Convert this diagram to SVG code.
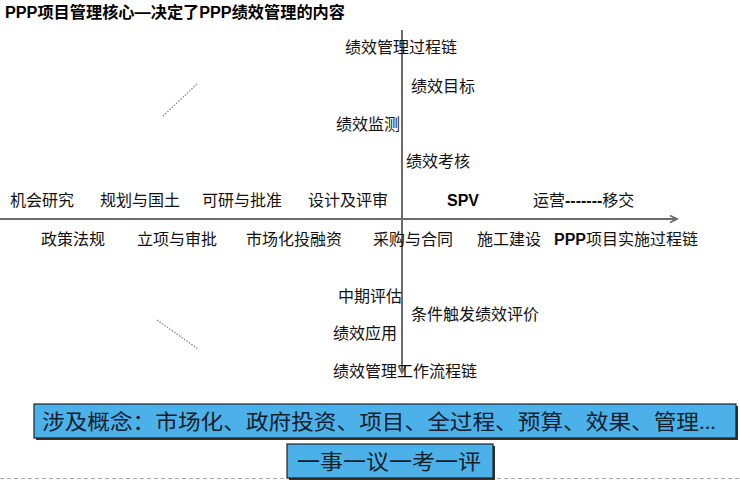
<svg xmlns="http://www.w3.org/2000/svg" width="740" height="484" viewBox="0 0 740 484">
<style>
.t{font-family:"Liberation Serif","Noto Sans CJK SC",serif;font-size:16px;fill:#111}
.b{font-family:"Liberation Sans","Noto Sans CJK SC",sans-serif;font-size:16px;font-weight:bold;fill:#000}
.box{fill:#4cb1e8;stroke:#222;stroke-width:1.2}
.sh{fill:#333}
.bt{font-family:"Liberation Serif","Noto Sans CJK SC",serif;font-size:21px;fill:#14202c}
.ax{stroke:#6b6b6b;stroke-width:2;fill:none}
.dot{stroke:#888;stroke-width:1.3;stroke-dasharray:1.5 1.5;fill:none}
</style>
<defs>
<marker id="ah" markerWidth="10" markerHeight="10" refX="8" refY="5" orient="auto" markerUnits="userSpaceOnUse">
<path d="M1,1.5 L8,5 L1,8.5" fill="none" stroke="#6b6b6b" stroke-width="1.8"/>
</marker>
</defs>
<rect width="740" height="484" fill="#fff"/>
<text id="title" class="b" x="5" y="18" font-size="16px" textLength="340" lengthAdjust="spacingAndGlyphs">PPP项目管理核心—决定了PPP绩效管理的内容</text>
<g id="connectors">
<line class="ax" x1="0" y1="219" x2="677" y2="219" marker-end="url(#ah)"/>
<line class="ax" x1="402" y1="30" x2="402" y2="373" marker-end="url(#ah)"/>
<line class="dot" x1="163" y1="116" x2="197" y2="84"/>
<line class="dot" x1="157" y1="320" x2="198" y2="349"/>
<line x1="0" y1="478.5" x2="740" y2="478.5" stroke="#aaa" stroke-width="1" stroke-dasharray="4 3"/>
</g>
<g id="n-chain"><text class="t" x="345" y="53">绩效管理过程链</text></g>
<g id="n-target"><text class="t" x="411" y="92">绩效目标</text></g>
<g id="n-monitor"><text class="t" x="336" y="130">绩效监测</text></g>
<g id="n-assess"><text class="t" x="406" y="167">绩效考核</text></g>
<g id="n-r1a"><text class="t" x="10" y="206">机会研究</text></g>
<g id="n-r1b"><text class="t" x="100" y="206">规划与国土</text></g>
<g id="n-r1c"><text class="t" x="202" y="206">可研与批准</text></g>
<g id="n-r1d"><text class="t" x="308" y="206">设计及评审</text></g>
<g id="n-spv"><text class="b" x="447" y="206" font-size="17px">SPV</text></g>
<g id="n-ops"><text class="t" x="533" y="206">运营<tspan font-family="Liberation Sans" font-weight="bold">-------</tspan>移交</text></g>
<g id="n-r2a"><text class="t" x="41" y="245">政策法规</text></g>
<g id="n-r2b"><text class="t" x="137" y="245">立项与审批</text></g>
<g id="n-r2c"><text class="t" x="246" y="245">市场化投融资</text></g>
<g id="n-r2d"><text class="t" x="373" y="245">采购与合同</text></g>
<g id="n-r2e"><text class="t" x="477" y="245">施工建设</text></g>
<g id="n-r2f"><text class="t" x="554" y="245"><tspan font-family="Liberation Sans" font-weight="bold" font-size="16px">PPP</tspan>项目实施过程链</text></g>
<g id="n-mid"><text class="t" x="338" y="302">中期评估</text></g>
<g id="n-trigger"><text class="t" x="411" y="320">条件触发绩效评价</text></g>
<g id="n-apply"><text class="t" x="333" y="339">绩效应用</text></g>
<g id="n-flow"><text class="t" x="333" y="377">绩效管理工作流程链</text></g>
<g id="n-concepts">
<rect class="sh" x="36" y="406" width="702" height="34"/>
<rect class="box" x="34" y="404" width="702" height="34"/>
<text class="bt" x="42" y="429" textLength="674" lengthAdjust="spacingAndGlyphs">涉及概念：市场化、政府投资、项目、全过程、预算、效果、管理...</text>
</g>
<g id="n-one">
<rect class="sh" x="289" y="446" width="206" height="34"/>
<rect class="box" x="287" y="444" width="206" height="34"/>
<text class="bt" x="297" y="469" font-size="22px" textLength="184" lengthAdjust="spacingAndGlyphs">一事一议一考一评</text>
</g>
</svg>
